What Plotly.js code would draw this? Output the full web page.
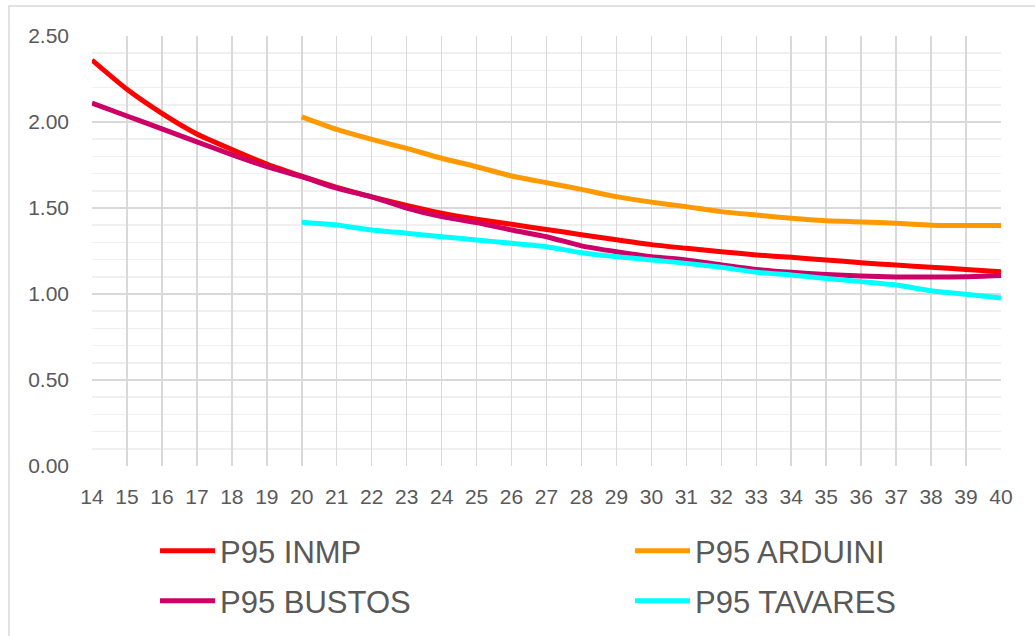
<!DOCTYPE html>
<html>
<head>
<meta charset="utf-8">
<script src="https://cdn.plot.ly/plotly-3.0.1.min.js"></script>
<style>html,body{margin:0;padding:0;background:#fff;}#chart{width:1035px;height:636px;}</style>
</head>
<body>
<div id="chart"></div>
<script>
const xAll = [14,15,16,17,18,19,20,21,22,23,24,25,26,27,28,29,30,31,32,33,34,35,36,37,38,39,40];
const xLate = [20,21,22,23,24,25,26,27,28,29,30,31,32,33,34,35,36,37,38,39,40];
const inmp = [2.36,2.19,2.05,1.93,1.84,1.755,1.685,1.62,1.565,1.515,1.47,1.435,1.405,1.375,1.345,1.315,1.287,1.266,1.246,1.227,1.213,1.198,1.182,1.168,1.155,1.143,1.13];
const bustos = [2.11,2.035,1.96,1.885,1.81,1.74,1.682,1.615,1.565,1.50,1.45,1.415,1.372,1.333,1.28,1.246,1.217,1.198,1.169,1.143,1.126,1.114,1.105,1.099,1.099,1.10,1.107];
const arduini = [2.03,1.957,1.899,1.847,1.789,1.74,1.686,1.647,1.608,1.566,1.534,1.508,1.479,1.459,1.44,1.426,1.419,1.411,1.40,1.398,1.398];
const tavares = [1.417,1.401,1.372,1.353,1.333,1.314,1.295,1.275,1.24,1.217,1.198,1.178,1.155,1.126,1.11,1.09,1.072,1.052,1.019,0.998,0.977];
const names = ['P95 INMP','P95 ARDUINI','P95 BUSTOS','P95 TAVARES'];
const colors = ['#FF0000','#FF9900','#CC0066','#00FFFF'];
const legendIds = ['legend','legend2','legend3','legend4'];

function tr(x, y, i) {
  return {x: x, y: y, name: names[i], type: 'scatter', mode: 'lines',
    legend: legendIds[i],
    line: {color: colors[i], width: 5, shape: 'spline', smoothing: 0.6},
    hoverinfo: 'x+y'};
}
const data = [tr(xAll, inmp, 0), tr(xLate, arduini, 1), tr(xAll, bustos, 2), tr(xLate, tavares, 3)];

const CW = 1035, CH = 636;
const W = 909, H = 430, L = 92, T = 36;
function leg(px, py) {
  return {orientation: 'h', xref: 'container', yref: 'container',
    x: px / CW, y: 1 - py / CH, xanchor: 'left', yanchor: 'middle',
    itemwidth: 55,
    font: {size: 31, color: '#595959', family: 'Liberation Sans, Arial, sans-serif'},
    bgcolor: 'rgba(0,0,0,0)'};
}

const layout = {
  width: CW, height: CH,
  margin: {l: L, r: CW - L - W, t: T, b: CH - T - H},
  paper_bgcolor: '#ffffff', plot_bgcolor: '#ffffff',
  font: {family: 'Liberation Sans, Arial, sans-serif', color: '#595959', size: 21},
  xaxis: {range: [14, 40], tickmode: 'linear', tick0: 14, dtick: 1, showgrid: true,
    gridcolor: '#d9d9d9', gridwidth: 1.5, zeroline: false, showline: false, ticks: '',
    ticklabelstandoff: 16, tickfont: {size: 21, color: '#595959'}},
  yaxis: {range: [0, 2.5], tickmode: 'linear', tick0: 0, dtick: 0.5, tickformat: '.2f',
    showgrid: true, gridcolor: '#d9d9d9', gridwidth: 1.5, zeroline: false, showline: false, ticks: '',
    ticklabelstandoff: 22, tickfont: {size: 21, color: '#595959'},
    minor: {dtick: 0.1, showgrid: true, gridcolor: '#f0f0f0', gridwidth: 1.5}},
  showlegend: true,
  legend: leg(155, 551),
  legend2: leg(630, 551),
  legend3: leg(155, 601),
  legend4: leg(630, 601),
  shapes: [{type: 'rect', xref: 'paper', yref: 'paper',
    x0: (9 - L) / W, x1: (1060 - L) / W, y0: -(660 - T - H) / H, y1: (T + H - 6) / H,
    line: {color: '#d9d9d9', width: 1.5}, fillcolor: 'rgba(0,0,0,0)', layer: 'below'}]
};
Plotly.newPlot('chart', data, layout, {displayModeBar: false, staticPlot: true});
</script>
</body>
</html>
